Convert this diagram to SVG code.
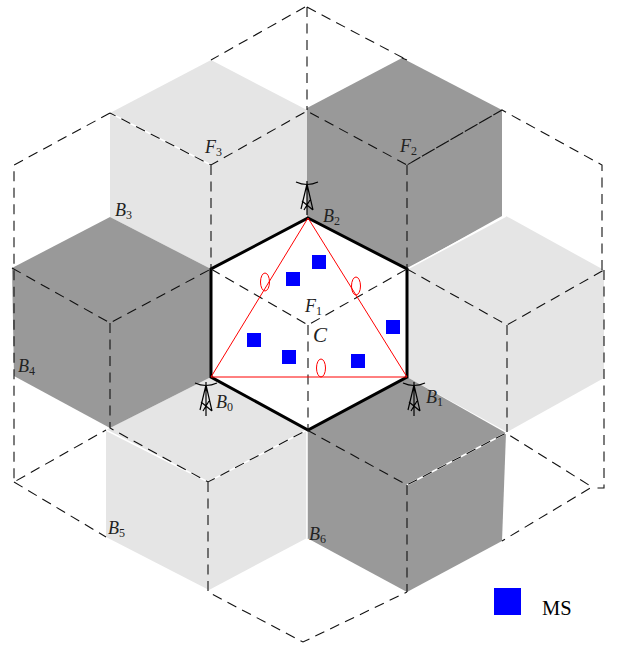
<svg xmlns="http://www.w3.org/2000/svg" width="617" height="653" viewBox="0 0 617 653">
<style>
.light{fill:#e5e5e5}
.dark{fill:#999}
.gap{fill:none;stroke:#fff;stroke-width:1.5}
.dash{fill:none;stroke:#111;stroke-width:1.1;stroke-dasharray:10 6.5}
.cell{fill:#fff;stroke:#000;stroke-width:3;stroke-linejoin:miter}
.sec{fill:none;stroke:#f00;stroke-width:1}
.ms{fill:#00f}
.ant{fill:none;stroke:#000;stroke-width:1.2}
text{font-family:"Liberation Serif","Times New Roman",serif;fill:#222}
.lb{font-size:18px;font-style:italic}
.lb tspan{font-size:12px;font-style:normal}
</style>
<defs>
<g id="antenna" class="ant">
<path d="M-11-1Q0 4 11-1M0-2V32M0 1L-6 26M0 1L6 27M-5 18L6 27M3 17L-3 27" />
</g>
</defs>
<rect width="617" height="653" fill="#fff"/>
<g id="hex-f3"><polygon class="light" points="211,60 307,110 307,218 211,269 110,217 110,113"/></g>
<g id="hex-f2"><polygon class="dark" points="402,58 502,110 502,216 407,269 307,218 307,108"/></g>
<g id="hex-right"><polygon class="light" points="506,216 604,270 604,378 507,432 407,377 407,269"/></g>
<g id="hex-b6"><polygon class="dark" points="407,377 506,433 502,541 407,592 307,538 307,430"/></g>
<g id="hex-b5"><polygon class="light" points="211,377 307,430 307,538 209,590 106,537 106,430"/></g>
<g id="hex-left"><polygon class="dark" points="110,217 211,269 211,377 110,428 14,376 12,268"/></g>
<path class="gap" d="M110,113L211,165M307,430L208,482L106,430M407,485L506,433M407,269L506,216M307,430V538"/>
<g id="cell-center"><polygon class="cell" points="308,218 407,269 407,377 308,430 211,377 211,269"/></g>
<g id="connectors">
<path class="dash" d="M305,7L211,60M110,113L14,165V482L106,430M14,482L106,537M12,268L110,323L211,269M110,323V428L208,482L307,430M208,482V592L303,642L407,592M307,430L407,485L506,433L592,487L502,541M407,485V592M604,270V488H592M602,270V165L502,110L407,165L307,111L211,165L110,113M307,7V110M307,7L407,60M407,60L402,58M502,110L407,165M407,165V269M211,165V269M407,269L507,325L604,270M507,325V432M211,269L308,325L407,269M308,325V430"/>
</g>
<g id="sector">
<polygon class="sec" points="308,218 407,377 211,377"/>
<ellipse class="sec" cx="265" cy="282" rx="4.5" ry="9"/>
<ellipse class="sec" cx="356" cy="286" rx="4.5" ry="9"/>
<ellipse class="sec" cx="321" cy="368" rx="4.5" ry="9"/>
</g>
<g id="antenna-b2"><use href="#antenna" x="307" y="183"/></g>
<g id="antenna-b0"><use href="#antenna" x="206" y="384"/></g>
<g id="antenna-b1"><use href="#antenna" x="414" y="384"/></g>
<g id="ms-1"><rect class="ms" x="312" y="255" width="14" height="14"/></g>
<g id="ms-2"><rect class="ms" x="286" y="272" width="14" height="14"/></g>
<g id="ms-3"><rect class="ms" x="247" y="333" width="14" height="14"/></g>
<g id="ms-4"><rect class="ms" x="282" y="350" width="14" height="14"/></g>
<g id="ms-5"><rect class="ms" x="351" y="354" width="14" height="14"/></g>
<g id="ms-6"><rect class="ms" x="386" y="320" width="14" height="14"/></g>
<g id="labels">
<text class="lb" x="323" y="222">B<tspan dy="3">2</tspan></text>
<text class="lb" x="216" y="408">B<tspan dy="3">0</tspan></text>
<text class="lb" x="426" y="403">B<tspan dy="3">1</tspan></text>
<text class="lb" x="115" y="216">B<tspan dy="3">3</tspan></text>
<text class="lb" x="18" y="372">B<tspan dy="3">4</tspan></text>
<text class="lb" x="108" y="534">B<tspan dy="3">5</tspan></text>
<text class="lb" x="309" y="540">B<tspan dy="3">6</tspan></text>
<text class="lb" x="305" y="312">F<tspan dy="3">1</tspan></text>
<text class="lb" x="400" y="152">F<tspan dy="3">2</tspan></text>
<text class="lb" x="205" y="153">F<tspan dy="3">3</tspan></text>
<text class="lb" x="313" y="342" style="font-size:21px">C</text>
</g>
<g id="legend">
<rect class="ms" x="494" y="588" width="27" height="27"/>
<text x="542" y="615" font-size="20.5" style="fill:#000">MS</text>
</g>
</svg>
